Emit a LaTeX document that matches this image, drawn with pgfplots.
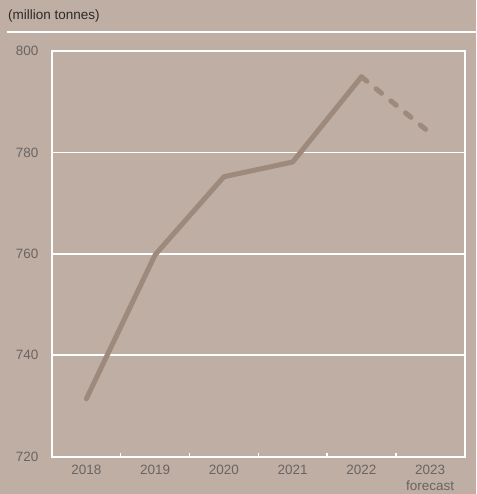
\documentclass[border=0pt]{standalone}
\usepackage{fontspec}
\setmainfont{Liberation Sans}
\usepackage{pgfplots}
\pgfplotsset{compat=1.18}
\definecolor{bg}{HTML}{BEAEA3}
\definecolor{ln}{HTML}{9E897D}
\definecolor{tk}{HTML}{6B6462}
\definecolor{tt}{HTML}{2E2A28}
\begin{document}
\begin{tikzpicture}
\fill[bg] (0bp,0bp) rectangle (476bp,494bp);
\node[anchor=west, inner sep=0pt, text=tt, font=\fontsize{13.5bp}{16bp}\selectfont] at (8bp,478bp) {(million tonnes)};
\draw[white, line width=2.5bp] (7bp,462bp) -- (476bp,462bp);
\begin{axis}[
  at={(52bp,37bp)}, anchor=south west,
  scale only axis, width=413bp, height=406bp,
  xmin=-0.5, xmax=5.5, ymin=720, ymax=800,
  ytick={720,740,...,800},
  xtick={0,...,5},
  xticklabels={2018,2019,2020,2021,2022,{2023\\forecast}},
  minor xtick={0.5,1.5,...,4.5},
  major tick length=0pt,
  minor tick length=4bp,
  tick align=inside,
  xtick pos=bottom, ytick pos=left,
  minor tick style={white, line width=1.5bp},
  axis line style={white, line width=2bp},
  ymajorgrids, grid style={white, line width=1.5bp},
  /pgf/number format/assume math mode=true,
  yticklabel style={text=tk, font=\fontsize{13.5bp}{16bp}\selectfont, xshift=-10bp},
  xticklabel style={text=tk, font=\fontsize{13.5bp}{16bp}\selectfont, align=center, yshift=-5bp},
  yticklabel={\pgfmathprintnumber[fixed,precision=0]{\tick}},
]
\addplot[ln, line width=5bp, line join=round, line cap=round] coordinates {(0,731.4)(1,759.8)(2,775.2)(3,778.1)(4,794.9)};
\addplot[ln, line width=5bp, line cap=round, dash pattern=on 7bp off 12bp] coordinates {(4,794.9)(5,783.8)};
\end{axis}
\end{tikzpicture}
\end{document}
